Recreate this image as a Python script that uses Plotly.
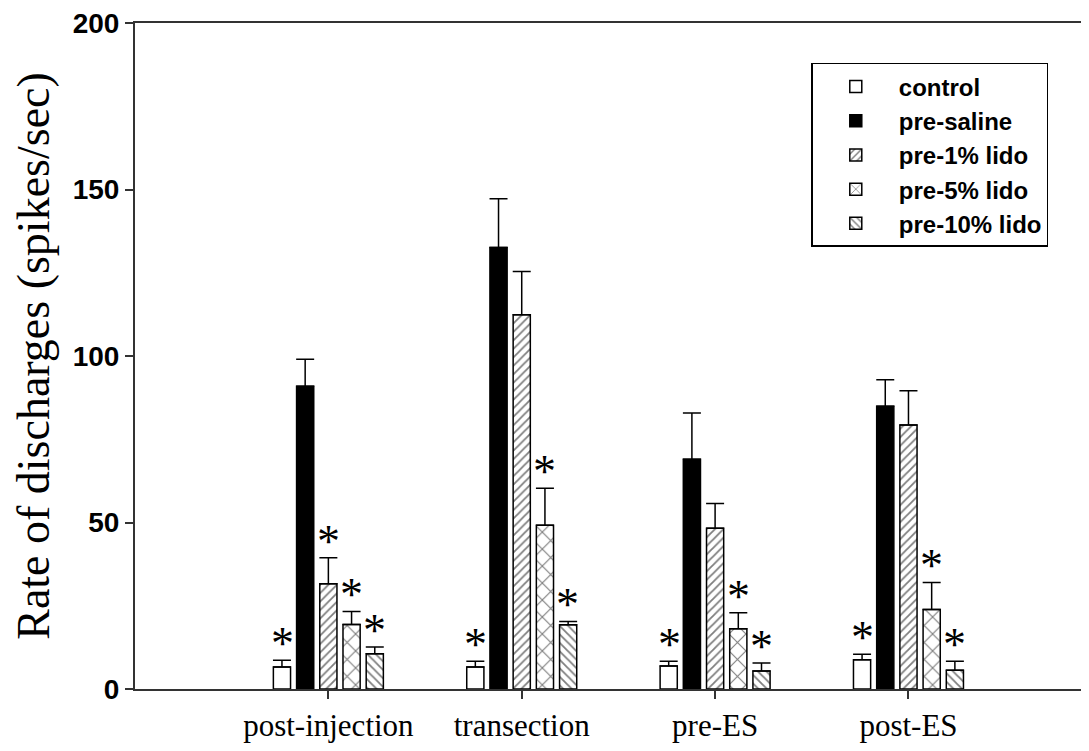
import plotly.graph_objects as go

categories = ["post-injection", "transection", "pre-ES", "post-ES"]
series_names = ["control", "pre-saline", "pre-1% lido", "pre-5% lido", "pre-10% lido"]

control = [6.6, 6.6, 6.9, 8.8]
control_err = [2.0, 1.7, 1.4, 1.6]
pre_saline = [90.9, 132.6, 69.0, 84.9]
pre_saline_err = [8.1, 14.6, 13.9, 8.0]
pre_1_lido = [31.6, 112.4, 48.3, 79.3]
pre_1_lido_err = [7.8, 13.0, 7.4, 10.3]
pre_5_lido = [19.4, 49.2, 18.1, 23.9]
pre_5_lido_err = [3.9, 11.1, 4.8, 8.1]
pre_10_lido = [10.6, 19.3, 5.4, 5.6]
pre_10_lido_err = [2.0, 1.0, 2.4, 2.7]

# significance markers (True = asterisk shown above the error bar)
control_sig = [True, True, True, True]
pre_saline_sig = [False, False, False, False]
pre_1_lido_sig = [True, False, False, False]
pre_5_lido_sig = [True, True, True, True]
pre_10_lido_sig = [True, True, True, True]

values = [control, pre_saline, pre_1_lido, pre_5_lido, pre_10_lido]
errors = [control_err, pre_saline_err, pre_1_lido_err, pre_5_lido_err, pre_10_lido_err]
sigs = [control_sig, pre_saline_sig, pre_1_lido_sig, pre_5_lido_sig, pre_10_lido_sig]

styles = [
    dict(color="white", pattern=dict(shape="")),
    dict(color="black", pattern=dict(shape="")),
    dict(color="white", pattern=dict(shape="/", fgcolor="black", bgcolor="white", size=6, solidity=0.3)),
    dict(color="white", pattern=dict(shape="x", fgcolor="black", bgcolor="white", size=12, solidity=0.18)),
    dict(color="white", pattern=dict(shape="\\", fgcolor="black", bgcolor="white", size=6, solidity=0.3)),
]

fig = go.Figure()
for name, v, e, st in zip(series_names, values, errors, styles):
    fig.add_trace(go.Bar(
        x=categories, y=v, name=name,
        marker=dict(color=st["color"], pattern=st["pattern"], line=dict(color="black", width=1.5)),
        error_y=dict(type="data", array=e, arrayminus=[0] * len(e), symmetric=False,
                     color="black", thickness=1.5, width=9),
    ))

slot_px = 23
for k, (v, e, s) in enumerate(zip(values, errors, sigs)):
    for i, cat in enumerate(categories):
        if s[i]:
            fig.add_annotation(
                x=cat, y=v[i] + e[i], xref="x", yref="y",
                text="*", showarrow=False, xshift=(k - 2) * slot_px,
                yanchor="bottom", yshift=-11,
                font=dict(family="Liberation Serif", size=46, color="black"),
            )

fig.update_layout(
    width=1089, height=751,
    margin=dict(l=127, r=0, t=13, b=70),
    paper_bgcolor="white", plot_bgcolor="white",
    barmode="group", bargap=0.4, bargroupgap=0.26,
    showlegend=True,
    legend=dict(
        x=0.703, y=0.94, xanchor="left", yanchor="top",
        bordercolor="black", borderwidth=1.5, bgcolor="white",
        font=dict(family="Liberation Sans", size=24, color="black", weight="bold"),
        itemwidth=76, traceorder="normal",
    ),
    font=dict(family="Liberation Sans", color="black"),
)

fig.update_xaxes(
    range=[-1.0, 3.975], showline=True, linecolor="#333", linewidth=2, mirror=True,
    ticks="outside", ticklen=8, tickcolor="#333", tickwidth=1.5,
    tickfont=dict(family="Liberation Serif", size=31, color="black"),
    showgrid=False, zeroline=False,
)
fig.update_yaxes(
    range=[0, 200], tickvals=[0, 50, 100, 150, 200],
    showline=True, linecolor="#333", linewidth=2,
    ticks="outside", ticklen=8, tickcolor="#333", tickwidth=1.5,
    ticklabeloverflow="allow",
    tickfont=dict(family="Liberation Sans", size=28, color="black", weight="bold"),
    title=dict(text="Rate of discharges (spikes/sec)", standoff=14,
               font=dict(family="Liberation Serif", size=46, color="black")),
    showgrid=False, zeroline=False,
)

fig.write_html("out.html")
